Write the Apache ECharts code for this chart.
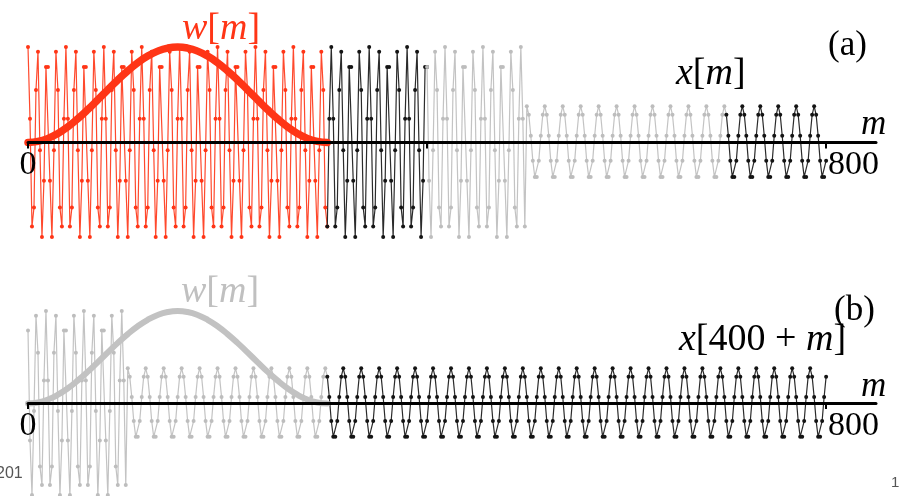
<!DOCTYPE html>
<html><head><meta charset="utf-8">
<script src="https://cdn.jsdelivr.net/npm/echarts@6/dist/echarts.min.js"></script>
<style>html,body{margin:0;padding:0;background:#fff;overflow:hidden}#c{width:905px;height:496px}</style>
</head><body><div id="c"></div>
<script>
// sample spacing of the plotted signal (m units)
const SAMPLE_STEP = 2;
// x[m] for m = 0, 2, 4, ..., 1200
const xSignal = [
1, 0.25, -0.88, -0.68, 0.55, 0.95, -0.08, -0.99, -0.4, 0.79, 0.79, -0.4, -0.99, -0.08, 0.95, 0.55, -0.68, -0.88, 0.25,
1, 0.25, -0.88, -0.68, 0.55, 0.95, -0.08, -0.99, -0.4, 0.79, 0.79, -0.4, -0.99, -0.08, 0.95, 0.55, -0.68, -0.88, 0.25,
1, 0.25, -0.88, -0.68, 0.55, 0.95, -0.08, -0.99, -0.4, 0.79, 0.79, -0.4, -0.99, -0.08, 0.95, 0.55, -0.68, -0.88, 0.25,
1, 0.25, -0.88, -0.68, 0.55, 0.95, -0.08, -0.99, -0.4, 0.79, 0.79, -0.4, -0.99, -0.08, 0.95, 0.55, -0.68, -0.88, 0.25,
1, 0.25, -0.88, -0.68, 0.55, 0.95, -0.08, -0.99, -0.4, 0.79, 0.79, -0.4, -0.99, -0.08, 0.95, 0.55, -0.68, -0.88, 0.25,
1, 0.25, -0.88, -0.68, 0.55, 0.95, -0.08, -0.99, -0.4, 0.79, 0.79, -0.4, -0.99, -0.08, 0.95, 0.55, -0.68, -0.88, 0.25,
1, 0.25, -0.88, -0.68, 0.55, 0.95, -0.08, -0.99, -0.4, 0.79, 0.79, -0.4, -0.99, -0.08, 0.95, 0.55, -0.68, -0.88, 0.25,
1, 0.25, -0.88, -0.68, 0.55, 0.95, -0.08, -0.99, -0.4, 0.79, 0.79, -0.4, -0.99, -0.08, 0.95, 0.55, -0.68, -0.88, 0.25,
1, 0.25, -0.88, -0.68, 0.55, 0.95, -0.08, -0.99, -0.4, 0.79, 0.79, -0.4, -0.99, -0.08, 0.95, 0.55, -0.68, -0.88, 0.25,
1, 0.25, -0.88, -0.68, 0.55, 0.95, -0.08, -0.99, -0.4, 0.79, 0.79, -0.4, -0.99, -0.08, 0.95, 0.55, -0.68, -0.88, 0.25,
1, 0.25, -0.88, -0.68, 0.55, 0.95, -0.08, -0.99, -0.4, 0.79, 0.79, -0.4, -0.99, -0.08, 0.95, 0.55, -0.68, -0.88, 0.25,
1, 0.25, -0.88, -0.68, 0.55, 0.95, -0.08, -0.99, -0.4, 0.79, 0.79, -0.4, -0.99, -0.08, 0.95, 0.55, -0.68, -0.88, 0.25,
1, 0.25, -0.88, -0.68, 0.55, 0.95, -0.08, -0.99, -0.4, 0.79, 0.79, -0.4, -0.99, -0.08, 0.95, 0.55, -0.68, -0.88, 0.25,
1, 0.25, -0.88,
0.38, 0.29, 0.07, -0.19, -0.36, -0.36, -0.19, 0.07, 0.29, 0.38, 0.29, 0.07, -0.19, -0.36, -0.36, -0.19, 0.07, 0.29, 0.38, 0.29, 0.07, -0.19, -0.36, -0.36, -0.19, 0.07, 0.29,
0.38, 0.29, 0.07, -0.19, -0.36, -0.36, -0.19, 0.07, 0.29, 0.38, 0.29, 0.07, -0.19, -0.36, -0.36, -0.19, 0.07, 0.29, 0.38, 0.29, 0.07, -0.19, -0.36, -0.36, -0.19, 0.07, 0.29,
0.38, 0.29, 0.07, -0.19, -0.36, -0.36, -0.19, 0.07, 0.29, 0.38, 0.29, 0.07, -0.19, -0.36, -0.36, -0.19, 0.07, 0.29, 0.38, 0.29, 0.07, -0.19, -0.36, -0.36, -0.19, 0.07, 0.29,
0.38, 0.29, 0.07, -0.19, -0.36, -0.36, -0.19, 0.07, 0.29, 0.38, 0.29, 0.07, -0.19, -0.36, -0.36, -0.19, 0.07, 0.29, 0.38, 0.29, 0.07, -0.19, -0.36, -0.36, -0.19, 0.07, 0.29,
0.38, 0.29, 0.07, -0.19, -0.36, -0.36, -0.19, 0.07, 0.29, 0.38, 0.29, 0.07, -0.19, -0.36, -0.36, -0.19, 0.07, 0.29, 0.38, 0.29, 0.07, -0.19, -0.36, -0.36, -0.19, 0.07, 0.29,
0.38, 0.29, 0.07, -0.19, -0.36, -0.36, -0.19, 0.07, 0.29, 0.38, 0.29, 0.07, -0.19, -0.36, -0.36, -0.19, 0.07, 0.29, 0.38, 0.29, 0.07, -0.19, -0.36, -0.36, -0.19, 0.07, 0.29,
0.38, 0.29, 0.07, -0.19, -0.36, -0.36, -0.19, 0.07, 0.29, 0.38, 0.29, 0.07, -0.19, -0.36, -0.36, -0.19, 0.07, 0.29, 0.38, 0.29, 0.07, -0.19, -0.36, -0.36, -0.19, 0.07, 0.29,
0.38, 0.29, 0.07, -0.19, -0.36, -0.36, -0.19, 0.07, 0.29, 0.38, 0.29, 0.07, -0.19, -0.36, -0.36, -0.19, 0.07, 0.29, 0.38, 0.29, 0.07, -0.19, -0.36, -0.36, -0.19, 0.07, 0.29,
0.38, 0.29, 0.07, -0.19, -0.36, -0.36, -0.19, 0.07, 0.29, 0.38, 0.29, 0.07, -0.19, -0.36, -0.36, -0.19, 0.07, 0.29, 0.38, 0.29, 0.07, -0.19, -0.36, -0.36, -0.19, 0.07, 0.29,
0.38, 0.29, 0.07, -0.19, -0.36, -0.36, -0.19, 0.07, 0.29, 0.38, 0.29, 0.07, -0.19, -0.36, -0.36, -0.19, 0.07, 0.29, 0.38, 0.29, 0.07, -0.19, -0.36, -0.36, -0.19, 0.07, 0.29,
0.38, 0.29, 0.07, -0.19, -0.36, -0.36, -0.19, 0.07, 0.29, 0.38, 0.29, 0.07, -0.19, -0.36, -0.36, -0.19, 0.07, 0.29, 0.38, 0.29, 0.07, -0.19, -0.36, -0.36, -0.19, 0.07, 0.29,
0.38, 0.29, 0.07, -0.19, -0.36, -0.36, -0.19, 0.07, 0.29, 0.38, 0.29, 0.07, -0.19, -0.36, -0.36, -0.19, 0.07, 0.29, 0.38, 0.29, 0.07, -0.19, -0.36, -0.36, -0.19, 0.07, 0.29,
0.38, 0.29, 0.07, -0.19, -0.36, -0.36, -0.19, 0.07, 0.29, 0.38, 0.29, 0.07, -0.19, -0.36, -0.36, -0.19, 0.07, 0.29, 0.38, 0.29, 0.07, -0.19, -0.36, -0.36, -0.19, 0.07, 0.29
];
// window w[m] for m = 0, 10, ..., 300
const WINDOW_STEP = 10;
const windowW = [0, 0.011, 0.043, 0.095, 0.165, 0.25, 0.345, 0.448, 0.552, 0.655, 0.75, 0.835, 0.905, 0.957, 0.989, 1,
                 0.989, 0.957, 0.905, 0.835, 0.75, 0.655, 0.552, 0.448, 0.345, 0.25, 0.165, 0.095, 0.043, 0.011, 0];
const tickValuesA = [0, 400, 800];
const tickValuesB = [0, 800];
const tickLabels = [0, 800];
const panelASegments = [[0, 300, 'red'], [300, 400, 'black'], [400, 700, 'gray'], [700, 800, 'black']];
const panelBShift = 400;
const panelBSegments = [[0, 300, 'gray'], [300, 800, 'black']];

const TONES = { red: '#ff3516', black: '#141414', gray: '#bdbdbd' };
const SERIF = '"Liberation Serif","DejaVu Serif",serif';
const GRID_A = { left: 28, width: 848, top: 47, height: 191 };
const GRID_B = { left: 28, width: 848, top: 311, height: 186 };

function segData(from, to, shift) {
  const out = [];
  for (let m = from; m <= to; m += SAMPLE_STEP) {
    const v = xSignal[(m + shift) / SAMPLE_STEP];
    if (v !== undefined) out.push([m, v]);
  }
  return out;
}
function windowData() {
  return windowW.map((v, i) => [i * WINDOW_STEP, v]);
}
function signalSeries(segs, shift, gi) {
  return segs.map(s => ({
    type: 'line', xAxisIndex: gi, yAxisIndex: gi, data: segData(s[0], s[1], shift),
    showSymbol: true, symbol: 'circle', symbolSize: 4, clip: false,
    lineStyle: { color: TONES[s[2]], width: 1.2, opacity: 0.9 },
    itemStyle: { color: TONES[s[2]] }, z: 2, silent: true
  }));
}
function xAxisCfg(gi, ticks, grid) {
  return {
    gridIndex: gi, type: 'value', min: 0, max: 850, z: 10,
    position: 'bottom', offset: -grid.height / 2,
    axisLine: { onZero: false, lineStyle: { color: '#000', width: 3 } },
    axisTick: { show: true, customValues: ticks, length: 6, lineStyle: { color: '#000', width: 2 } },
    axisLabel: {
      customValues: tickLabels, margin: 6,
      formatter: v => v === 0 ? '{c|' + v + '}' : '{r|' + v + '}',
      rich: {
        c: { fontFamily: SERIF, fontSize: 34, color: '#000', lineHeight: 34 },
        r: { fontFamily: SERIF, fontSize: 34, color: '#000', lineHeight: 34, padding: [0, 0, 0, 55] }
      }
    },
    splitLine: { show: false }
  };
}
function yAxisCfg(gi) {
  return { gridIndex: gi, type: 'value', min: -1, max: 1, show: false, splitLine: { show: false } };
}
function mathText(x, y, str, color, size) {
  return {
    type: 'text', x: x, y: y, z: 20,
    style: {
      text: str, fill: color, verticalAlign: 'middle', align: 'left',
      rich: {
        i: { fontFamily: SERIF, fontStyle: 'italic', fontSize: size, fill: color, color: color },
        n: { fontFamily: SERIF, fontSize: size, fill: color, color: color }
      },
      font: size + 'px ' + SERIF
    }
  };
}

const chart = echarts.init(document.getElementById('c'), null, { renderer: 'canvas' });
chart.setOption({
  animation: false,
  backgroundColor: '#fff',
  grid: [
    Object.assign({ containLabel: false }, GRID_A),
    Object.assign({ containLabel: false }, GRID_B)
  ],
  xAxis: [xAxisCfg(0, tickValuesA, GRID_A), xAxisCfg(1, tickValuesB, GRID_B)],
  yAxis: [yAxisCfg(0), yAxisCfg(1)],
  series: [
    ...signalSeries(panelASegments, 0, 0),
    {
      type: 'line', xAxisIndex: 0, yAxisIndex: 0, data: windowData(), smooth: true,
      showSymbol: false, clip: false, silent: true, z: 5,
      lineStyle: { color: TONES.red, width: 7.5, cap: 'round' }
    },
    ...signalSeries(panelBSegments, panelBShift, 1),
    {
      type: 'line', xAxisIndex: 1, yAxisIndex: 1, data: windowData(), smooth: true,
      showSymbol: false, clip: false, silent: true, z: 5,
      lineStyle: { color: '#c2c2c2', width: 6, cap: 'round' }
    }
  ],
  graphic: [
    mathText(182, 29, '{i|w}{n|[}{i|m}{n|]}', TONES.red, 38),
    mathText(676, 74, '{i|x}{n|[}{i|m}{n|]}', '#000', 38),
    mathText(828, 46, '{n|(a)}', '#000', 35),
    mathText(861, 125, '{i|m}', '#000', 35),
    mathText(181, 292, '{i|w}{n|[}{i|m}{n|]}', '#c0c0c0', 38),
    mathText(679, 340, '{i|x}{n|[400 + }{i|m}{n|]}', '#000', 38),
    mathText(834, 311, '{n|(b)}', '#000', 35),
    mathText(861, 387, '{i|m}', '#000', 35),
    { type: 'text', x: -4, y: 474, z: 20, style: { text: '201', fill: '#555', font: '16px "Liberation Sans",sans-serif', verticalAlign: 'middle' } },
    { type: 'text', x: 891, y: 483, z: 20, style: { text: '1', fill: '#555', font: '15px "Liberation Sans",sans-serif', verticalAlign: 'middle' } }
  ]
});
</script>
</body></html>
